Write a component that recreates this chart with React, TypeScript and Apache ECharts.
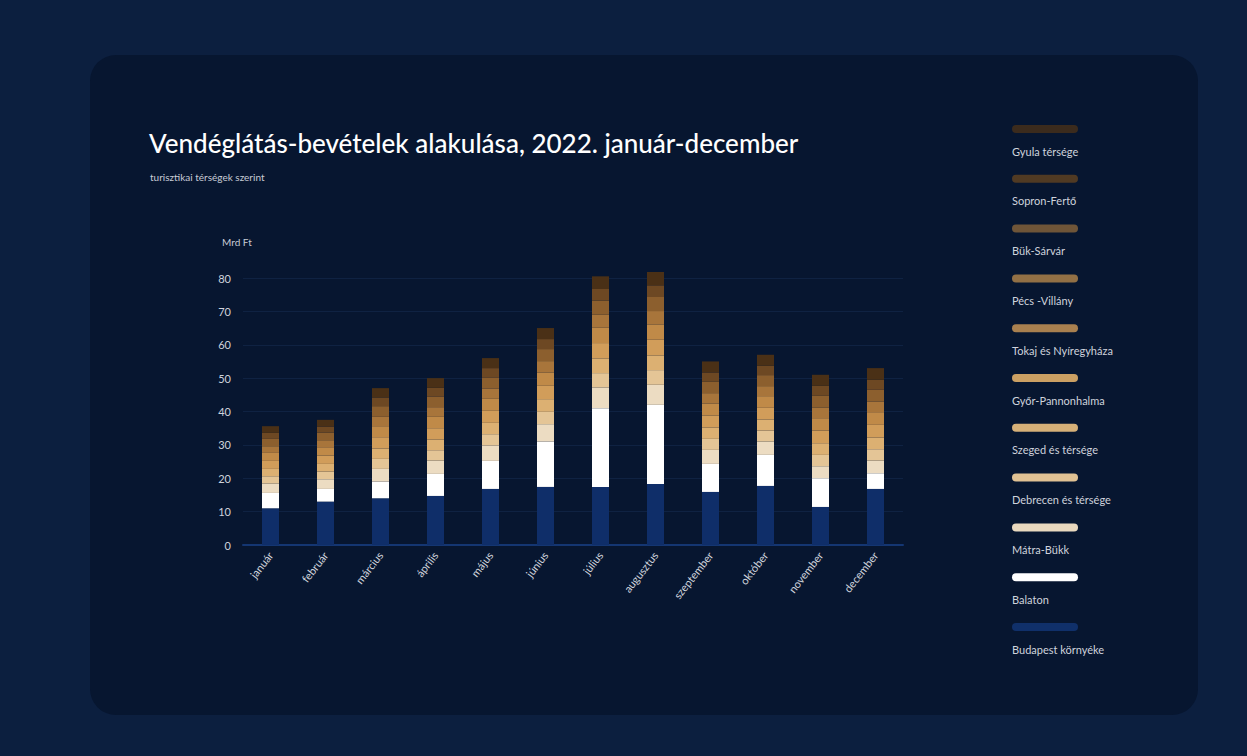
import React, { useEffect, useRef } from "react";
import * as echarts from "echarts";

const months = ["január", "február", "március", "április", "május", "június", "július", "augusztus", "szeptember", "október", "november", "december"];

const budapestKornyeke = [11, 13, 14, 14.7, 16.8, 17.4, 17.4, 18.3, 15.9, 17.7, 11.4, 16.8];
const balaton = [4.6, 3.8, 5, 6.6, 8.4, 13.6, 23.6, 23.7, 8.4, 9.3, 8.6, 4.7];
const matraBukk = [2.8, 2.9, 3.8, 4.0, 4.6, 5.2, 6.2, 6.0, 4.2, 4.0, 3.6, 3.8];
const debrecen = [2.2, 2.3, 3.0, 3.1, 3.4, 3.7, 4.3, 4.4, 3.3, 3.3, 3.4, 3.4];
const szeged = [2.2, 2.3, 3.1, 3.2, 3.4, 3.8, 4.4, 4.4, 3.4, 3.3, 3.5, 3.5];
const gyorPannonhalma = [2.4, 2.5, 3.4, 3.4, 3.6, 4.0, 4.6, 4.7, 3.6, 3.5, 3.8, 3.8];
const tokajNyiregyhaza = [2.4, 2.5, 3.3, 3.4, 3.6, 4.0, 4.6, 4.6, 3.6, 3.5, 3.7, 3.8];
const pecsVillany = [2.0, 2.1, 2.8, 2.9, 3.1, 3.4, 3.9, 4.0, 3.1, 3.0, 3.2, 3.2];
const bukSarvar = [2.2, 2.3, 3.2, 3.2, 3.3, 3.6, 4.2, 4.2, 3.4, 3.3, 3.5, 3.5];
const sopronFerto = [1.8, 1.8, 2.6, 2.6, 2.8, 3.0, 3.5, 3.5, 2.8, 2.8, 3.0, 3.0];
const gyulaTersege = [2.0, 2.0, 2.8, 2.9, 3.0, 3.3, 3.8, 4.0, 3.3, 3.3, 3.3, 3.5];

const seriesNames = [
  "Budapest környéke",
  "Balaton",
  "Mátra-Bükk",
  "Debrecen és térsége",
  "Szeged és térsége",
  "Győr-Pannonhalma",
  "Tokaj és Nyíregyháza",
  "Pécs -Villány",
  "Bük-Sárvár",
  "Sopron-Fertő",
  "Gyula térsége",
];
const seriesData = [
  budapestKornyeke, balaton, matraBukk, debrecen, szeged, gyorPannonhalma,
  tokajNyiregyhaza, pecsVillany, bukSarvar, sopronFerto, gyulaTersege,
];
const barColors = [
  "#0f2e69", "#ffffff", "#ecdcc2", "#e4c596", "#dcb072", "#d19d5a",
  "#c08a48", "#a8753b", "#8c5f2e", "#6d4823", "#4a3016",
];
const legendColors = [
  "#10306a", "#ffffff", "#e9d9bf", "#e0c193", "#d6b078", "#cba063",
  "#a9804f", "#927045", "#6f5538", "#503a23", "#3b2b1d",
];
const yTicks = [0, 10, 20, 30, 40, 50, 60, 70, 80];

export default function App() {
  const ref = useRef<HTMLDivElement>(null);
  useEffect(() => {
    if (!ref.current) return;
    const chart = echarts.init(ref.current, undefined, { renderer: "svg" });
    const font = "Lato, 'Open Sans', sans-serif";
    const legendItems: any[] = [];
    const order = seriesNames.map((_, i) => seriesNames.length - 1 - i);
    order.forEach((idx, k) => {
      const y = 129 + k * 49.8;
      legendItems.push({
        type: "rect",
        shape: { x: 1012, y: y - 4, width: 66, height: 8, r: 4 },
        style: { fill: legendColors[idx] },
      });
      legendItems.push({
        type: "text",
        x: 1012,
        y: y + 22,
        style: {
          text: seriesNames[idx],
          fill: "#cfd3dc",
          font: `11px ${font}`,
          textVerticalAlign: "middle",
        },
      });
    });
    chart.setOption({
      animation: false,
      backgroundColor: "#0c1f3f",
      textStyle: { fontFamily: font },
      graphic: [
        {
          type: "rect",
          z: -10,
          shape: { x: 90, y: 55, width: 1108, height: 660, r: 26 },
          style: { fill: "#071630" },
        },
        {
          type: "text",
          x: 149,
          y: 143,
          style: {
            text: "Vendéglátás-bevételek alakulása, 2022. január-december",
            fill: "#ffffff",
            font: `500 26px ${font}`,
            textVerticalAlign: "middle",
          },
        },
        {
          type: "text",
          x: 150,
          y: 177,
          style: {
            text: "turisztikai térségek szerint",
            fill: "#c8ccd6",
            font: `10px ${font}`,
            textVerticalAlign: "middle",
          },
        },
        {
          type: "text",
          x: 222,
          y: 242,
          style: {
            text: "Mrd Ft",
            fill: "#c8ccd6",
            font: `10px ${font}`,
            textVerticalAlign: "middle",
          },
        },
        ...legendItems,
      ],
      grid: { left: 243, top: 278, width: 660, height: 267, containLabel: false },
      xAxis: {
        type: "category",
        data: months,
        axisLine: { lineStyle: { color: "#143672", width: 2 } },
        axisTick: { show: false },
        axisLabel: {
          color: "#cfd3dc",
          fontSize: 11,
          rotate: 52,
          margin: 8,
          fontFamily: font,
        },
      },
      yAxis: {
        type: "value",
        min: 0,
        max: 80,
        interval: 10,
        axisLine: { show: false },
        axisTick: { show: false },
        axisLabel: {
          color: "#cfd3dc",
          fontSize: 11,
          margin: 12,
          fontFamily: font,
          formatter: (v: number) => (yTicks.includes(v) ? String(v) : ""),
        },
        splitLine: { lineStyle: { color: "rgba(40,70,120,0.25)", width: 1 } },
      },
      series: seriesNames.map((name, i) => ({
        name,
        type: "bar",
        stack: "total",
        barWidth: 17,
        clip: false,
        data: seriesData[i],
        itemStyle: { color: barColors[i] },
      })),
    });
    return () => chart.dispose();
  }, []);
  return (
    <div
      ref={ref}
      style={{ position: "fixed", left: 0, top: 0, width: 1247, height: 756 }}
    />
  );
}
